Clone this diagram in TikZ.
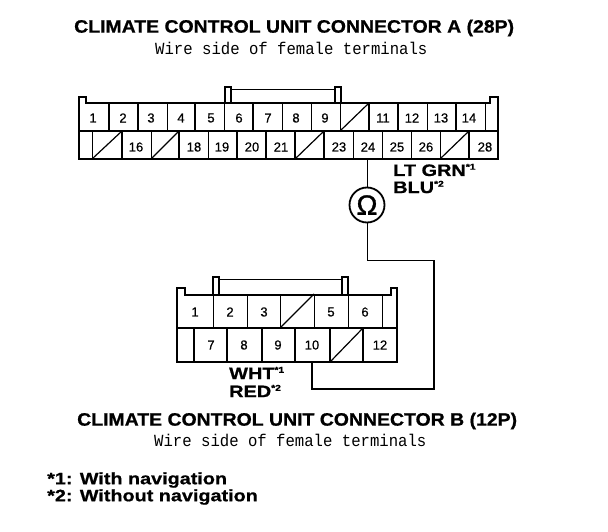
\documentclass[tikz,border=0pt]{standalone}
\usepackage{fontspec}
\setmainfont{Liberation Sans}
\newfontfamily\wirefont[FakeStretch=0.92]{Liberation Mono}
\newfontfamily\numfont[FakeBold=0.6]{Liberation Sans}
\newfontfamily\ohmfont[FakeBold=1.2]{Liberation Sans}
\newfontfamily\headfont[FakeBold=0.8,FakeStretch=1.08]{Liberation Sans Bold}
\newfontfamily\notefont[FakeBold=0.8,FakeStretch=1.2]{Liberation Sans Bold}
\tikzset{
  x=1pt,y=-1pt,
  outline/.style={line width=2.4pt,line join=miter},
  midline/.style={line width=1.8pt},
  thick div/.style={line width=1.5pt},
  thin div/.style={line width=0.9pt},
  slash/.style={line width=1.2pt},
  wire/.style={line width=1pt},
  wirebold/.style={line width=1.4pt},
  num/.style={inner sep=0pt,font=\numfont\fontsize{13}{14}\selectfont},
  title/.style={inner sep=0pt,anchor=west,font=\headfont\fontsize{18}{20}\selectfont},
  subtitle/.style={inner sep=0pt,anchor=west,font=\wirefont\fontsize{17}{18}\selectfont},
  colour label/.style={inner sep=0pt,anchor=west,font=\notefont\fontsize{16.6}{17}\selectfont},
  note/.style={inner sep=0pt,anchor=west,font=\notefont\fontsize{16.5}{17}\selectfont},
  ohmmeter/.style={circle,draw,line width=1.8pt,minimum size=35pt,inner sep=0pt,font=\ohmfont\fontsize{28}{28}\selectfont},
}
\newcommand{\sstar}[1]{\raisebox{0.38em}{\notefont\fontsize{8.5}{9}\selectfont *#1}}
\begin{document}
\begin{tikzpicture}
\useasboundingbox (0,0) rectangle (608,532);
\fill[white] (0,0) rectangle (608,532);

% --- Titles
\node[title] (ta) at (74,28) {CLIMATE CONTROL UNIT CONNECTOR A (28P)};
\node[subtitle] (sa) at (155,48) {Wire side of female terminals};
\node[title] (tb) at (77,421) {CLIMATE CONTROL UNIT CONNECTOR B (12P)};
\node[subtitle] (sb) at (154,440) {Wire side of female terminals};
\node[note] (n1) at (47,480) {*1: With navigation};
\node[note] (n2) at (47,497) {*2: Without navigation};

% --- Connector A
\foreach \x in {109,138,195,253,369,398,456} \draw[thick div] (\x,103) -- (\x,131);
\foreach \x in {167,224,282,311,340,427,485} \draw[thin div] (\x,103) -- (\x,131);
\foreach \x in {122,179,237,266,295,324,469} \draw[thick div] (\x,131) -- (\x,159);
\foreach \x in {92,151,208,353,382,411,440} \draw[thin div] (\x,131) -- (\x,159);
\draw[slash] (340,131) -- (369,103);
\draw[slash] (92,159) -- (122,131);
\draw[slash] (151,159) -- (179,131);
\draw[slash] (295,159) -- (324,131);
\draw[slash] (440,159) -- (469,131);
\draw[midline] (79,131) -- (498,131);
\draw[outline] (79,159) -- (79,97) -- (86,97) -- (86,103) -- (490,103) -- (490,97) -- (498,97) -- (498,159) -- cycle;
% latch
\draw[line width=1.2pt] (225,103) -- (225,87) -- (231,87) -- (231,103);
\draw[line width=1.2pt] (335,103) -- (335,87) -- (341,87) -- (341,103);
\draw[line width=1.6pt] (224,87) -- (231,87) (334,87) -- (341,87);
\draw[line width=1.4pt] (231,89.5) -- (335,89.5);

\foreach \n/\x in {1/93,2/123,3/151,4/181,5/211,6/239,7/268,8/296,9/325,11/383,12/412,13/441,14/469}
  \node[num] (a\n) at (\x,118) {\n};
\foreach \n/\x in {16/136,18/194,19/222,20/252,21/281,23/339,24/368,25/397,26/426,28/485}
  \node[num] (a\n) at (\x,147) {\n};

\node[colour label] (lta) at (393,170) {LT GRN\sstar{1}};
\node[colour label] (lta2) at (393,187) {BLU\sstar{2}};

% --- Connector B
\foreach \x in {213,247,280,314,348,382} \draw[thin div] (\x,294) -- (\x,328);
\foreach \x in {194,227,262,295,330,363} \draw[thick div] (\x,328) -- (\x,362);
\draw[slash] (280,328) -- (314,294);
\draw[slash] (330,362) -- (363,328);
\draw[midline] (177,328) -- (397,328);
\draw[outline] (177,362) -- (177,288) -- (185,288) -- (185,295) -- (391,295) -- (391,288) -- (397,288) -- (397,362) -- cycle;
% latch
\draw[line width=1.4pt] (213,295) -- (213,277) -- (219,277) -- (219,295);
\draw[line width=1.4pt] (342,295) -- (342,277) -- (348,277) -- (348,295);
\draw[line width=1.4pt] (219,279.5) -- (342,279.5);

\foreach \n/\x in {1/195,2/230,3/264,5/331,6/365}
  \node[num] (b\n) at (\x,312) {\n};
\foreach \n/\x in {7/211,8/244,9/278,10/312,12/380}
  \node[num] (b\n) at (\x,345) {\n};

\node[colour label] (lb) at (229,373) {WHT\sstar{1}};
\node[colour label] (lb2) at (229,391) {RED\sstar{2}};

% --- Ohmmeter and wiring
\node[ohmmeter] (ohm) at (367,205) {Ω};
\coordinate (a24pin) at (367,159);
\coordinate (b10pin) at (312,362);
\coordinate (w1) at (367,260);
\coordinate (w2) at (434,260);
\coordinate (w3) at (434,389);
\coordinate (w4) at (312,389);
\draw[wire] (a24pin) -- (ohm);
\draw[wire] (ohm) -- (w1) -- (w2);
\draw[wirebold,line join=miter] (w2) -- (w3) -- (w4) -- (b10pin);
\end{tikzpicture}
\end{document}
